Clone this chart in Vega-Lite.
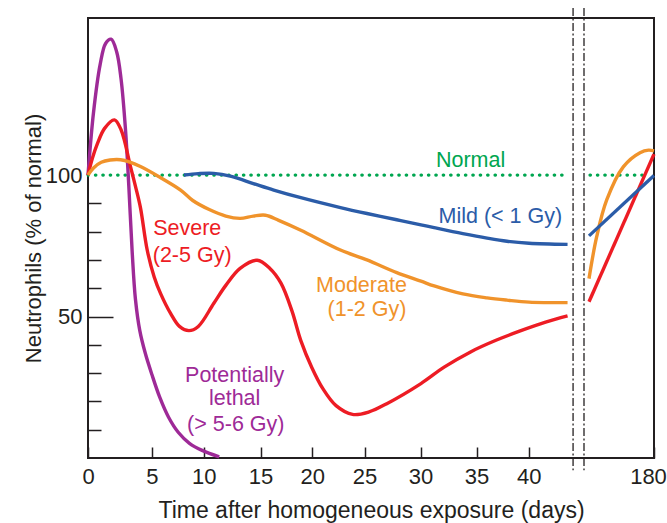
{
  "$schema": "https://vega.github.io/schema/vega-lite/v6.json",
  "width": 566,
  "height": 440,
  "autosize": {"type": "none"},
  "padding": {"left": 88, "top": 18, "right": 13, "bottom": 65},
  "config": {
    "font": "Liberation Sans",
    "view": {"stroke": "#231f20", "strokeWidth": 2},
    "axis": {
      "grid": false,
      "domain": false,
      "labelFont": "Liberation Sans",
      "titleFont": "Liberation Sans",
      "labelFontSize": 22,
      "titleFontSize": 22,
      "titleFontWeight": "normal",
      "labelColor": "#231f20",
      "titleColor": "#231f20",
      "tickColor": "#231f20",
      "tickWidth": 1.5,
      "labelFlush": false,
      "labelOverlap": false,
      "labelBound": false
    }
  },
  "datasets": {
    "curves": [
      {"series": "Potentially lethal", "seg": "a", "day": 0, "value": 100},
      {"series": "Potentially lethal", "seg": "a", "day": 0.43, "value": 122},
      {"series": "Potentially lethal", "seg": "a", "day": 0.95, "value": 139},
      {"series": "Potentially lethal", "seg": "a", "day": 1.38, "value": 146.5},
      {"series": "Potentially lethal", "seg": "a", "day": 1.81, "value": 148},
      {"series": "Potentially lethal", "seg": "a", "day": 2.25, "value": 143.5},
      {"series": "Potentially lethal", "seg": "a", "day": 2.59, "value": 134},
      {"series": "Potentially lethal", "seg": "a", "day": 2.94, "value": 116},
      {"series": "Potentially lethal", "seg": "a", "day": 3.2, "value": 96},
      {"series": "Potentially lethal", "seg": "a", "day": 3.46, "value": 73},
      {"series": "Potentially lethal", "seg": "a", "day": 3.72, "value": 56},
      {"series": "Potentially lethal", "seg": "a", "day": 4.06, "value": 45},
      {"series": "Potentially lethal", "seg": "a", "day": 4.49, "value": 37},
      {"series": "Potentially lethal", "seg": "a", "day": 5.01, "value": 29.5},
      {"series": "Potentially lethal", "seg": "a", "day": 5.76, "value": 21.5},
      {"series": "Potentially lethal", "seg": "a", "day": 6.6, "value": 14.5},
      {"series": "Potentially lethal", "seg": "a", "day": 7.56, "value": 9},
      {"series": "Potentially lethal", "seg": "a", "day": 8.62, "value": 5.2},
      {"series": "Potentially lethal", "seg": "a", "day": 9.89, "value": 2.6},
      {"series": "Potentially lethal", "seg": "a", "day": 11.36, "value": 0.4},

      {"series": "Severe", "seg": "a", "day": 0, "value": 100},
      {"series": "Severe", "seg": "a", "day": 0.35, "value": 106},
      {"series": "Severe", "seg": "a", "day": 0.73, "value": 111},
      {"series": "Severe", "seg": "a", "day": 1.3, "value": 116.5},
      {"series": "Severe", "seg": "a", "day": 2.07, "value": 119.5},
      {"series": "Severe", "seg": "a", "day": 2.59, "value": 116},
      {"series": "Severe", "seg": "a", "day": 3.33, "value": 103},
      {"series": "Severe", "seg": "a", "day": 3.72, "value": 96},
      {"series": "Severe", "seg": "a", "day": 4.11, "value": 88.5},
      {"series": "Severe", "seg": "a", "day": 4.64, "value": 73.5},
      {"series": "Severe", "seg": "a", "day": 5.23, "value": 64},
      {"series": "Severe", "seg": "a", "day": 5.86, "value": 58},
      {"series": "Severe", "seg": "a", "day": 6.82, "value": 51},
      {"series": "Severe", "seg": "a", "day": 7.66, "value": 46.5},
      {"series": "Severe", "seg": "a", "day": 8.57, "value": 45},
      {"series": "Severe", "seg": "a", "day": 9.47, "value": 46.5},
      {"series": "Severe", "seg": "a", "day": 10.87, "value": 54.6},
      {"series": "Severe", "seg": "a", "day": 11.94, "value": 61},
      {"series": "Severe", "seg": "a", "day": 13.2, "value": 67},
      {"series": "Severe", "seg": "a", "day": 14.71, "value": 69.9},
      {"series": "Severe", "seg": "a", "day": 15.91, "value": 67},
      {"series": "Severe", "seg": "a", "day": 16.98, "value": 61.8},
      {"series": "Severe", "seg": "a", "day": 18.04, "value": 52},
      {"series": "Severe", "seg": "a", "day": 18.9, "value": 41.5},
      {"series": "Severe", "seg": "a", "day": 19.96, "value": 32},
      {"series": "Severe", "seg": "a", "day": 21.02, "value": 24.5},
      {"series": "Severe", "seg": "a", "day": 22.28, "value": 18.5},
      {"series": "Severe", "seg": "a", "day": 23.86, "value": 15.4},
      {"series": "Severe", "seg": "a", "day": 25.41, "value": 16.3},
      {"series": "Severe", "seg": "a", "day": 26.99, "value": 19.2},
      {"series": "Severe", "seg": "a", "day": 30.04, "value": 26.3},
      {"series": "Severe", "seg": "a", "day": 32.11, "value": 32.1},
      {"series": "Severe", "seg": "a", "day": 34.47, "value": 37.5},
      {"series": "Severe", "seg": "a", "day": 36.86, "value": 41.6},
      {"series": "Severe", "seg": "a", "day": 39.18, "value": 44.9},
      {"series": "Severe", "seg": "a", "day": 41.52, "value": 48},
      {"series": "Severe", "seg": "a", "day": 43.51, "value": 50.2},
      {"series": "Severe", "seg": "b", "day": 60, "value": 55.2},
      {"series": "Severe", "seg": "b", "day": 180, "value": 107.4},

      {"series": "Moderate", "seg": "a", "day": 0, "value": 100},
      {"series": "Moderate", "seg": "a", "day": 0.43, "value": 102.5},
      {"series": "Moderate", "seg": "a", "day": 1.04, "value": 104.5},
      {"series": "Moderate", "seg": "a", "day": 1.73, "value": 105.3},
      {"series": "Moderate", "seg": "a", "day": 2.55, "value": 105.4},
      {"series": "Moderate", "seg": "a", "day": 3.28, "value": 104.6},
      {"series": "Moderate", "seg": "a", "day": 4.11, "value": 103},
      {"series": "Moderate", "seg": "a", "day": 5.65, "value": 99.5},
      {"series": "Moderate", "seg": "a", "day": 7.77, "value": 94.7},
      {"series": "Moderate", "seg": "a", "day": 8.94, "value": 91},
      {"series": "Moderate", "seg": "a", "day": 10.48, "value": 87.8},
      {"series": "Moderate", "seg": "a", "day": 11.94, "value": 85.5},
      {"series": "Moderate", "seg": "a", "day": 13.2, "value": 84.7},
      {"series": "Moderate", "seg": "a", "day": 14.37, "value": 85.5},
      {"series": "Moderate", "seg": "a", "day": 15.48, "value": 85.8},
      {"series": "Moderate", "seg": "a", "day": 16.76, "value": 84},
      {"series": "Moderate", "seg": "a", "day": 18.9, "value": 80.5},
      {"series": "Moderate", "seg": "a", "day": 22.7, "value": 73.5},
      {"series": "Moderate", "seg": "a", "day": 25.22, "value": 70},
      {"series": "Moderate", "seg": "a", "day": 27.88, "value": 65.5},
      {"series": "Moderate", "seg": "a", "day": 30.04, "value": 62.5},
      {"series": "Moderate", "seg": "a", "day": 31.22, "value": 60.8},
      {"series": "Moderate", "seg": "a", "day": 33.78, "value": 58},
      {"series": "Moderate", "seg": "a", "day": 36.01, "value": 56.6},
      {"series": "Moderate", "seg": "a", "day": 37.91, "value": 55.8},
      {"series": "Moderate", "seg": "a", "day": 40.02, "value": 55.1},
      {"series": "Moderate", "seg": "a", "day": 43.51, "value": 54.9},
      {"series": "Moderate", "seg": "b", "day": 60, "value": 63.4},
      {"series": "Moderate", "seg": "b", "day": 74.2, "value": 78.2},
      {"series": "Moderate", "seg": "b", "day": 92.7, "value": 91.2},
      {"series": "Moderate", "seg": "b", "day": 123.3, "value": 102.9},
      {"series": "Moderate", "seg": "b", "day": 154.2, "value": 107.9},
      {"series": "Moderate", "seg": "b", "day": 170, "value": 108.8},
      {"series": "Moderate", "seg": "b", "day": 180, "value": 108.5},

      {"series": "Mild", "seg": "a", "day": 8.09, "value": 100},
      {"series": "Mild", "seg": "a", "day": 9.47, "value": 100.5},
      {"series": "Mild", "seg": "a", "day": 10.87, "value": 100.6},
      {"series": "Mild", "seg": "a", "day": 12.43, "value": 99.5},
      {"series": "Mild", "seg": "a", "day": 14.37, "value": 97},
      {"series": "Mild", "seg": "a", "day": 16.28, "value": 94.7},
      {"series": "Mild", "seg": "a", "day": 18.9, "value": 92},
      {"series": "Mild", "seg": "a", "day": 22.7, "value": 88.5},
      {"series": "Mild", "seg": "a", "day": 25.22, "value": 86.4},
      {"series": "Mild", "seg": "a", "day": 27.88, "value": 84.2},
      {"series": "Mild", "seg": "a", "day": 30.04, "value": 82.4},
      {"series": "Mild", "seg": "a", "day": 31.22, "value": 81.4},
      {"series": "Mild", "seg": "a", "day": 33.78, "value": 79.3},
      {"series": "Mild", "seg": "a", "day": 36.01, "value": 77.7},
      {"series": "Mild", "seg": "a", "day": 37.91, "value": 76.6},
      {"series": "Mild", "seg": "a", "day": 40.02, "value": 75.9},
      {"series": "Mild", "seg": "a", "day": 43.51, "value": 75.5},
      {"series": "Mild", "seg": "b", "day": 60, "value": 78.5},
      {"series": "Mild", "seg": "b", "day": 180, "value": 99.8}
    ],
    "normal": [
      {"seg": "a", "day": 0, "value": 100},
      {"seg": "a", "day": 43.11, "value": 100},
      {"seg": "b", "day": 61.8, "value": 100},
      {"seg": "b", "day": 166.5, "value": 100}
    ],
    "labels": [
      {"series": "Normal", "text": "Normal", "day": 34.47, "value": 102.9},
      {"series": "Mild", "text": "Mild (< 1 Gy)", "day": 37.28, "value": 82.9},
      {"series": "Severe", "text": "Severe", "day": 8.41, "value": 78.8},
      {"series": "Severe", "text": "(2-5 Gy)", "day": 8.88, "value": 69.3},
      {"series": "Moderate", "text": "Moderate", "day": 24.71, "value": 58.7},
      {"series": "Moderate", "text": "(1-2 Gy)", "day": 25.22, "value": 50.2},
      {"series": "Potentially lethal", "text": "Potentially", "day": 12.72, "value": 26.8},
      {"series": "Potentially lethal", "text": "lethal", "day": 12.72, "value": 18.6},
      {"series": "Potentially lethal", "text": "(> 5-6 Gy)", "day": 12.82, "value": 9.7}
    ],
    "breaks": [
      {"day": 44.01, "top": 159, "bottom": -4.3},
      {"day": 45, "top": 159, "bottom": -4.3}
    ]
  },
  "encoding": {
    "x": {
      "field": "day",
      "type": "quantitative",
      "scale": {
        "domain": [0, 5, 10, 15, 20, 25, 30, 35, 40, 45, 60, 180],
        "range": [0, 63.8, 115.8, 172.5, 224.2, 276.5, 332.5, 388.5, 440.8, 496, 501, 566],
        "nice": false,
        "zero": false
      },
      "axis": {
        "values": [0, 5, 10, 15, 20, 25, 30, 35, 40, 180],
        "tickSize": -11,
        "labelPadding": 19,
        "labelOffset": {"condition": {"test": "datum.value == 180", "value": -6}, "value": 0},
        "title": "Time after homogeneous exposure (days)",
        "titleFontSize": 23,
        "titlePadding": 12
      }
    },
    "y": {
      "field": "value",
      "type": "quantitative",
      "scale": {"domain": [0, 155.5], "nice": false, "zero": false},
      "axis": {
        "values": [10, 20, 30, 40, 50, 60, 70, 80, 90, 100],
        "labelExpr": "datum.value == 50 || datum.value == 100 ? datum.label : ''",
        "tickSize": {"condition": {"test": "datum.value == 50", "value": -25}, "value": -13},
        "tickOpacity": {"condition": {"test": "datum.value == 100", "value": 0}, "value": 1},
        "labelPadding": {"condition": {"test": "datum.value == 50", "value": 31}, "value": 19},
        "title": "Neutrophils (% of normal)",
        "titlePadding": 0
      }
    }
  },
  "layer": [
    {
      "data": {"name": "normal"},
      "mark": {"type": "line", "color": "#00a650", "strokeWidth": 3.2, "strokeDash": [0.5, 6.9], "strokeCap": "round"},
      "encoding": {"detail": {"field": "seg"}}
    },
    {
      "data": {"name": "curves"},
      "mark": {"type": "line", "strokeWidth": 3.4, "interpolate": "catmull-rom"},
      "encoding": {
        "color": {
          "field": "series",
          "type": "nominal",
          "scale": {"domain": ["Potentially lethal", "Severe", "Moderate", "Mild", "Normal"], "range": ["#9e2a97", "#ed1c24", "#f0932b", "#2b5ca8", "#00a650"]},
          "legend": null
        },
        "detail": {"field": "seg"}
      }
    },
    {
      "data": {"name": "breaks"},
      "mark": {"type": "rule", "color": "#231f20", "strokeWidth": 1.3, "strokeDash": [8, 2.5, 2, 2.5]},
      "encoding": {
        "x": {"field": "day", "type": "quantitative"},
        "y": {"field": "top", "type": "quantitative"},
        "y2": {"field": "bottom"}
      }
    },
    {
      "data": {"name": "labels"},
      "mark": {"type": "text", "fontSize": 21.5, "align": "center", "baseline": "alphabetic", "font": "Liberation Sans"},
      "encoding": {
        "text": {"field": "text"},
        "color": {"field": "series", "type": "nominal", "legend": null}
      }
    }
  ]
}
